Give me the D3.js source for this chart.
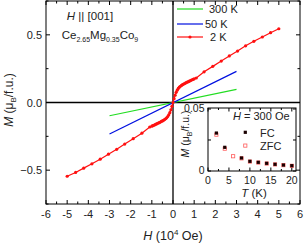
<!DOCTYPE html>
<html>
<head>
<meta charset="utf-8">
<script src="https://cdn.jsdelivr.net/npm/d3@7"></script>
<style>
  body { margin: 0; background: #fff; }
  svg { display: block; font-family: "Liberation Sans", Arial, sans-serif; }
</style>
</head>
<body>
<svg width="304" height="244"></svg>
<script>
// main panel: M(H) at three temperatures
const H300 = [-3, 3];
const M300 = [-0.098, 0.097];
const H50 = [-3, 3];
const M50 = [-0.233, 0.230];
const H2K = [-5.0, -4.6, -4.22, -3.83, -3.44, -3.05, -2.66, -2.28, -1.88, -1.47, -1.1,
  -1.0, -0.95, -0.9, -0.85, -0.8, -0.75, -0.7, -0.65, -0.6, -0.55, -0.5, -0.45, -0.4, -0.35, -0.3, -0.25, -0.2, -0.15, -0.1, -0.05,
  0,
  0.05, 0.1, 0.15, 0.2, 0.25, 0.3, 0.35, 0.4, 0.45, 0.5, 0.55, 0.6, 0.65, 0.7, 0.75, 0.8, 0.85, 0.9, 0.95, 1.0,
  1.1, 1.47, 1.88, 2.28, 2.66, 3.05, 3.43, 3.82, 4.22, 4.61, 5.0];
const M2K = [-0.545, -0.517, -0.485, -0.453, -0.419, -0.382, -0.346, -0.307, -0.267, -0.227, -0.181,
  -0.175, -0.171, -0.168, -0.164, -0.160, -0.156, -0.152, -0.149, -0.145, -0.140, -0.136, -0.132, -0.126, -0.120, -0.113, -0.104, -0.091, -0.075, -0.054, -0.028,
  0,
  0.028, 0.054, 0.075, 0.091, 0.104, 0.113, 0.120, 0.126, 0.132, 0.136, 0.140, 0.145, 0.149, 0.152, 0.156, 0.160, 0.164, 0.168, 0.171, 0.175,
  0.181, 0.227, 0.267, 0.306, 0.344, 0.380, 0.419, 0.452, 0.484, 0.516, 0.545];
const xTicks = [-6, -5, -4, -3, -2, -1, 0, 1, 2, 3, 4, 5, 6];
const yTicks = [-0.5, 0.0, 0.5];

// inset: M(T) at H = 300 Oe
const T_FC = [2, 4, 8, 10, 12, 14, 16, 18, 20];
const M_FC = [0.0306, 0.0191, 0.0105, 0.0078, 0.0070, 0.0062, 0.0054, 0.0048, 0.0043];
const T_ZFC = [2, 4, 6, 8, 10, 12, 14, 16, 18, 20];
const M_ZFC = [0.0293, 0.0180, 0.0119, 0.0102, 0.0076, 0.0068, 0.0060, 0.0053, 0.0047, 0.0042];
const insetXTicks = [0, 5, 10, 15, 20];
const insetYTicks = [0, 0.05];

const svg = d3.select("svg");
const pL = 46, pR = 300, pT = 1, pB = 204;

const x = d3.scaleLinear().domain([-6, 6]).range([pL, pR]);
const y = d3.scaleLinear().domain([-0.75, 0.75]).range([pB, pT]);

// ticks (inward), minor every half step
const xMinor = d3.range(-6, 6.01, 0.5);
const yMinor = d3.range(-0.75, 0.76, 0.25);
const tickG = svg.append("g").attr("stroke", "#000").attr("stroke-width", 1);
xMinor.forEach(v => {
    const len = Number.isInteger(v) ? 4 : 2.5;
    tickG.append("line").attr("x1", x(v)).attr("x2", x(v)).attr("y1", pB).attr("y2", pB - len);
    tickG.append("line").attr("x1", x(v)).attr("x2", x(v)).attr("y1", pT).attr("y2", pT + len);
});
yMinor.forEach(v => {
    const len = Math.abs(v * 2 - Math.round(v * 2)) < 1e-6 ? 4 : 2.5;
    tickG.append("line").attr("y1", y(v)).attr("y2", y(v)).attr("x1", pL).attr("x2", pL + len);
    tickG.append("line").attr("y1", y(v)).attr("y2", y(v)).attr("x1", pR).attr("x2", pR - len);
});

// frame
svg.append("rect")
    .attr("x", pL).attr("y", pT)
    .attr("width", pR - pL).attr("height", pB - pT)
    .attr("fill", "none").attr("stroke", "#000").attr("stroke-width", 1);

// zero lines
svg.append("line").attr("x1", pL).attr("x2", pR).attr("y1", y(0)).attr("y2", y(0))
    .attr("stroke", "#000").attr("stroke-width", 1.3);
svg.append("line").attr("x1", x(0)).attr("x2", x(0)).attr("y1", pT).attr("y2", pB)
    .attr("stroke", "#000").attr("stroke-width", 1.3);

// tick labels
svg.append("g").selectAll("text").data(xTicks).enter().append("text")
    .attr("x", d => x(d)).attr("y", 218)
    .attr("text-anchor", "middle").attr("font-size", 11).attr("fill", "#222")
    .text(d => d);
svg.append("g").selectAll("text").data(yTicks).enter().append("text")
    .attr("x", 42).attr("y", d => y(d) + 4)
    .attr("text-anchor", "end").attr("font-size", 11).attr("fill", "#222")
    .text(d => d3.format(".1f")(d));

// axis titles
const xt = svg.append("text").attr("x", x(0)).attr("y", 240)
    .attr("text-anchor", "middle").attr("font-size", 12.5).attr("fill", "#222");
xt.append("tspan").attr("font-style", "italic").text("H");
xt.append("tspan").text(" (10");
xt.append("tspan").attr("font-size", 8).attr("dy", -5).text("4");
xt.append("tspan").attr("dy", 5).text(" Oe)");

const yt = svg.append("text").attr("transform", "translate(13,100) rotate(-90)")
    .attr("text-anchor", "middle").attr("font-size", 12).attr("fill", "#222");
yt.append("tspan").attr("font-style", "italic").text("M");
yt.append("tspan").text(" (μ");
yt.append("tspan").attr("font-size", 8).attr("dy", 3).text("B");
yt.append("tspan").attr("dy", -3).text("/f.u.)");

// data
const line = d3.line().x(d => x(d[0])).y(d => y(d[1]));
svg.append("path").datum(H300.map((h, i) => [h, M300[i]]))
    .attr("d", line).attr("fill", "none").attr("stroke", "#22dd22").attr("stroke-width", 1.2);
svg.append("path").datum(H50.map((h, i) => [h, M50[i]]))
    .attr("d", line).attr("fill", "none").attr("stroke", "#0010e0").attr("stroke-width", 1.2);
const red = H2K.map((h, i) => [h, M2K[i]]);
svg.append("path").datum(red)
    .attr("d", line).attr("fill", "none").attr("stroke", "#ff1010").attr("stroke-width", 1.2);
svg.append("g").selectAll("circle").data(red).enter().append("circle")
    .attr("cx", d => x(d[0])).attr("cy", d => y(d[1])).attr("r", 1.6)
    .attr("fill", "#ff1010");

// annotations
const t1 = svg.append("text").attr("x", 90).attr("y", 20)
    .attr("text-anchor", "middle").attr("font-size", 11.5).attr("fill", "#222");
t1.append("tspan").attr("font-style", "italic").text("H");
t1.append("tspan").text(" || [001]");
const t2 = svg.append("text").attr("x", 100).attr("y", 39)
    .attr("text-anchor", "middle").attr("font-size", 11.5).attr("fill", "#222");
[["Ce", false], ["2.65", true], ["Mg", false], ["0.35", true], ["Co", false], ["9", true]].forEach(([s, sub], i) => {
    const ts = t2.append("tspan").text(s);
    if (sub) ts.attr("font-size", 7).attr("dy", 3);
    else if (i > 0) ts.attr("dy", -3);
});

// legend
const legend = [
    { label: "300 K", color: "#22dd22", y: 9, tx: 209, marker: false },
    { label: "50 K", color: "#0010e0", y: 24, tx: 205, marker: false },
    { label: "2 K", color: "#ff1010", y: 37, tx: 210, marker: true }
];
legend.forEach(d => {
    svg.append("line").attr("x1", 177).attr("x2", 203).attr("y1", d.y).attr("y2", d.y)
        .attr("stroke", d.color).attr("stroke-width", 1.2);
    if (d.marker) svg.append("circle").attr("cx", 190).attr("cy", d.y).attr("r", 1.6).attr("fill", d.color);
    svg.append("text").attr("x", d.tx).attr("y", d.y + 4).attr("font-size", 11).attr("fill", "#222").text(d.label);
});

// ---- inset ----
const iL = 208, iR = 296, iT = 108, iB = 171;
const ix = d3.scaleLinear().domain([0, 21]).range([iL, iR]);
const iy = d3.scaleLinear().domain([0, 0.0508]).range([iB, iT]);

svg.append("rect").attr("x", iL).attr("y", iT).attr("width", iR - iL).attr("height", iB - iT)
    .attr("fill", "#fff").attr("stroke", "#000").attr("stroke-width", 1);

const itG = svg.append("g").attr("stroke", "#000").attr("stroke-width", 1);
d3.range(0, 21, 2.5).forEach(v => {
    const len = v % 5 === 0 ? 3.5 : 2;
    itG.append("line").attr("x1", ix(v)).attr("x2", ix(v)).attr("y1", iB).attr("y2", iB - len);
    itG.append("line").attr("x1", ix(v)).attr("x2", ix(v)).attr("y1", iT).attr("y2", iT + len);
});
[0, 0.025, 0.05].forEach(v => {
    itG.append("line").attr("y1", iy(v)).attr("y2", iy(v)).attr("x1", iL).attr("x2", iL + 3);
    itG.append("line").attr("y1", iy(v)).attr("y2", iy(v)).attr("x1", iR).attr("x2", iR - 3);
});

svg.append("g").selectAll("text").data(insetXTicks).enter().append("text")
    .attr("x", d => ix(d)).attr("y", 184)
    .attr("text-anchor", "middle").attr("font-size", 10.5).attr("fill", "#222").text(d => d);
svg.append("g").selectAll("text").data(insetYTicks).enter().append("text")
    .attr("x", 204.5).attr("y", d => iy(d) + 3)
    .attr("text-anchor", "end").attr("font-size", 10.5).attr("fill", "#222").text(d => d);

const itx = svg.append("text").attr("x", 254).attr("y", 196.5)
    .attr("text-anchor", "middle").attr("font-size", 11.5).attr("fill", "#222");
itx.append("tspan").attr("font-style", "italic").text("T");
itx.append("tspan").text(" (K)");

const ity = svg.append("text").attr("transform", "translate(189,134) rotate(-90)")
    .attr("text-anchor", "middle").attr("font-size", 10.5).attr("fill", "#222");
ity.append("tspan").attr("font-style", "italic").text("M");
ity.append("tspan").text(" (μ");
ity.append("tspan").attr("font-size", 7).attr("dy", 2.5).text("B");
ity.append("tspan").attr("dy", -2.5).text("/f.u.)");

const ih = svg.append("text").attr("x", 233).attr("y", 120).attr("font-size", 11).attr("fill", "#222");
ih.append("tspan").attr("font-style", "italic").text("H");
ih.append("tspan").text(" =  300 Oe");

svg.append("g").selectAll("rect").data(T_ZFC.map((t, i) => [t, M_ZFC[i]])).enter().append("rect")
    .attr("x", d => ix(d[0]) - 1.6).attr("y", d => iy(d[1]) - 1.6)
    .attr("width", 3.2).attr("height", 3.2)
    .attr("fill", "#fff").attr("stroke", "#ff5a5a").attr("stroke-width", 0.8);
svg.append("g").selectAll("rect").data(T_FC.map((t, i) => [t, M_FC[i]])).enter().append("rect")
    .attr("x", d => ix(d[0]) - 1.6).attr("y", d => iy(d[1]) - 1.6)
    .attr("width", 3.2).attr("height", 3.2)
    .attr("fill", "#1a0000");

svg.append("rect").attr("x", 243.7).attr("y", 130.7).attr("width", 3.2).attr("height", 3.2).attr("fill", "#1a0000");
svg.append("text").attr("x", 260).attr("y", 136.5).attr("font-size", 11).attr("fill", "#222").text("FC");
svg.append("rect").attr("x", 243.7).attr("y", 144).attr("width", 3.2).attr("height", 3.2)
    .attr("fill", "#fff").attr("stroke", "#ff5a5a").attr("stroke-width", 0.8);
svg.append("text").attr("x", 260).attr("y", 150).attr("font-size", 11).attr("fill", "#222").text("ZFC");
</script>
</body>
</html>
